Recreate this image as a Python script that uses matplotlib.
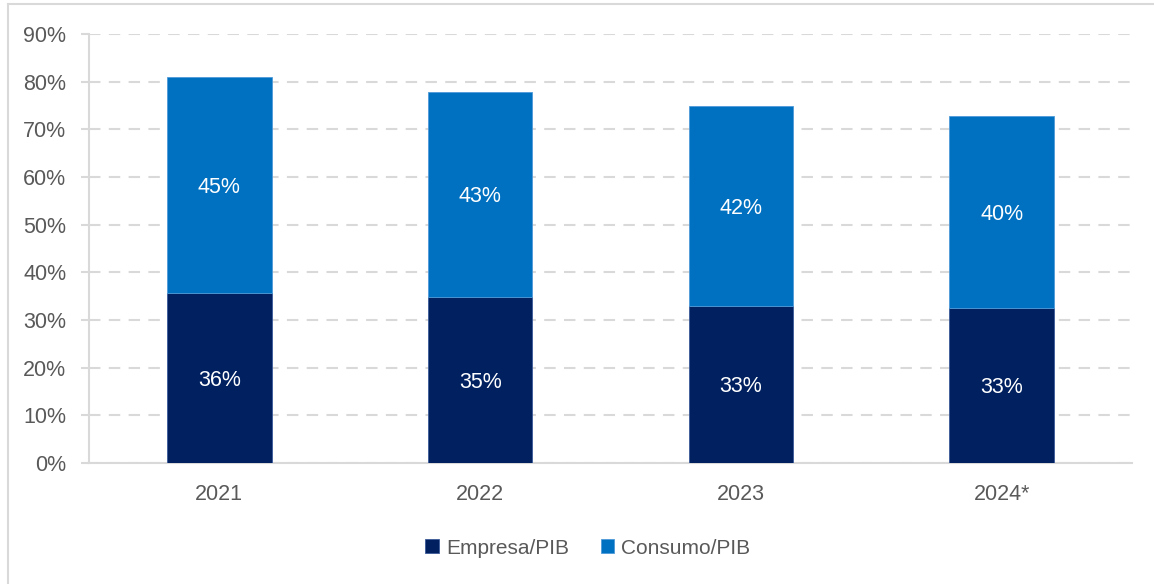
import matplotlib
matplotlib.use("Agg")
import matplotlib.pyplot as plt
from matplotlib.lines import Line2D
import numpy as np

plt.rcParams['font.family'] = ['Liberation Sans', 'DejaVu Sans']

years = ["2021", "2022", "2023", "2024*"]
empresa = [35.6, 34.9, 33.0, 32.6]
consumo = [45.4, 42.9, 41.9, 40.2]
empresa_labels = ["36%", "35%", "33%", "33%"]
consumo_labels = ["45%", "43%", "42%", "40%"]
series_names = ["Empresa/PIB", "Consumo/PIB"]

c_emp = "#002060"
c_con = "#0070C0"
grey_txt = "#595959"
grid_c = "#D9D9D9"
fs = 15.5

fig = plt.figure(figsize=(11.54, 5.84), dpi=100)
ax = fig.add_axes([89/1154, 1-463/584, (1132-89)/1154, (463-34)/584])

x = np.arange(len(years))
w = 0.4
b1 = ax.bar(x, empresa, w, color=c_emp, edgecolor="#3A5A9A", linewidth=0.6, label=series_names[0], zorder=3)
b2 = ax.bar(x, consumo, w, bottom=empresa, color=c_con, edgecolor="#4F9AD8", linewidth=0.6, label=series_names[1], zorder=3)

for i in range(len(years)):
    ax.text(x[i], empresa[i]/2, empresa_labels[i], ha="center", va="center_baseline", color="white", fontsize=fs, zorder=4)
    ax.text(x[i], empresa[i] + consumo[i]/2, consumo_labels[i], ha="center", va="center_baseline", color="white", fontsize=fs, zorder=4)

ax.set_xlim(-0.5, len(years)-0.5)
ax.set_ylim(0, 90)
ax.set_yticks(np.arange(0, 91, 10))
ax.set_yticklabels([f"{v}%" for v in range(0, 91, 10)])
ax.set_xticks(x)
ax.set_xticklabels(years)

ax.yaxis.grid(True, color=grid_c, linewidth=1.5, linestyle=(0, (5.5, 4)), zorder=0)
ax.set_axisbelow(True)
for s in ["top", "right"]:
    ax.spines[s].set_visible(False)
for s in ["left", "bottom"]:
    ax.spines[s].set_color(grid_c)
    ax.spines[s].set_linewidth(1.5)
    ax.spines[s].set_zorder(1)

ax.tick_params(axis="y", length=5.8, color=grid_c, width=1.5, labelsize=fs, labelcolor=grey_txt, pad=10.5)
ax.tick_params(axis="x", length=0, labelsize=fs, labelcolor=grey_txt, pad=15)

leg = fig.legend(handles=[b1, b2], labels=series_names, loc="center", bbox_to_anchor=(588/1154, 1-548/584),
                 ncol=2, frameon=False, fontsize=15, handlelength=0.65, handleheight=0.65,
                 handletextpad=0.35, columnspacing=1.5)
for t in leg.get_texts():
    t.set_color(grey_txt)

# outer frame (left and top visible)
fig.add_artist(Line2D([7.5/1154, 7.5/1154], [0, 1-4/584], transform=fig.transFigure, color=grid_c, linewidth=1.5))
fig.add_artist(Line2D([7.5/1154, 1], [1-4/584, 1-4/584], transform=fig.transFigure, color=grid_c, linewidth=1.5))

fig.savefig("out.png", dpi=100)
